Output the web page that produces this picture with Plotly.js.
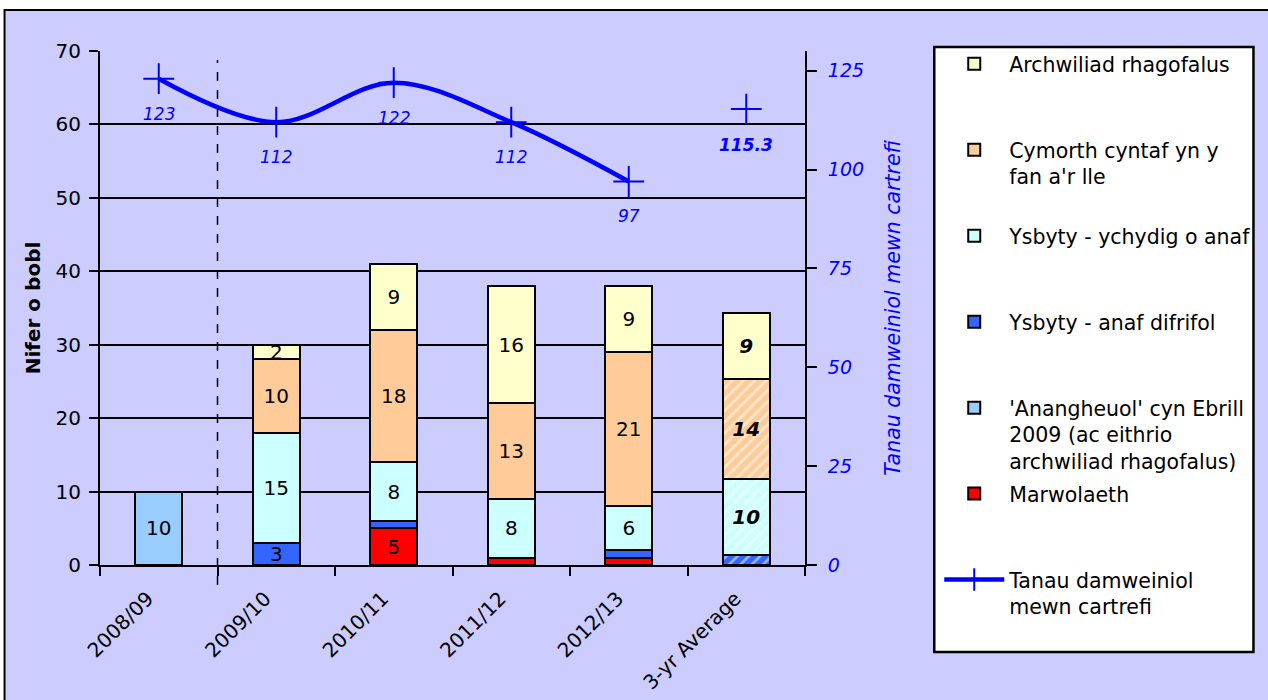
<!DOCTYPE html>
<html>
<head>
<meta charset="utf-8">
<script src="https://cdn.plot.ly/plotly-3.0.1.min.js"></script>
<style>html,body{margin:0;padding:0;background:#fff;}#chart{width:1268px;height:700px;}</style>
</head>
<body>
<div id="chart"></div>
<script>
// ---- data ----
const categories = ['2008/09', '2009/10', '2010/11', '2011/12', '2012/13', '3-yr Average'];
const marwolaeth   = [null, null, 5, 1, 1, null];
const anangheuol   = [10, null, null, null, null, null];
const anafDifrifol = [null, 3, 1, null, 1, 1.33];
const ychydigAnaf  = [null, 15, 8, 8, 6, 10.33];
const cymorth      = [null, 10, 18, 13, 21, 13.67];
const archwiliad   = [null, 2, 9, 16, 9, 9];
const tanauYears   = ['2008/09', '2009/10', '2010/11', '2011/12', '2012/13'];
const tanau        = [123, 112, 122, 112, 97];
const tanauAvg     = 115.3;
const tanauAvgLabel = '115.3';

const seriesNames = {
  marwolaeth: 'Marwolaeth',
  anangheuol: "'Anangheuol' cyn Ebrill<br>2009 (ac eithrio<br>archwiliad rhagofalus)",
  anafDifrifol: 'Ysbyty - anaf difrifol',
  ychydigAnaf: 'Ysbyty - ychydig o anaf',
  cymorth: "Cymorth cyntaf yn y<br>fan a'r lle",
  archwiliad: 'Archwiliad rhagofalus',
  tanau: 'Tanau damweiniol<br>mewn cartrefi'
};

// ---- styling ----
const FONT = 'DejaVu Sans';
const AVG_INDEX = categories.length - 1;
const BLUE = '#0000ff';

function padLines(name, n) {
  const lines = name.split('<br>').length;
  let out = name;
  for (let i = lines; i < n; i++) out += '<br>\u00a0';
  return out;
}

function labels(values) {
  return values.map((v, i) => {
    if (v === null || v < 2) return '';
    const r = String(Math.round(v));
    return i === AVG_INDEX ? '<b><i>' + r + '</i></b>' : r;
  });
}

function barTrace(values, key, color, rank, hatchAvg) {
  return {
    type: 'bar',
    x: categories,
    y: values,
    name: padLines(seriesNames[key], 3),
    legendgroup: key,
    legendrank: rank,
    text: labels(values),
    textposition: 'inside',
    insidetextanchor: 'middle',
    textangle: 0,
    textfont: {family: FONT, size: 20, color: '#000'},
    marker: {
      color: color,
      line: {color: '#000', width: 2},
      pattern: {
        shape: categories.map((c, i) => (hatchAvg && i === AVG_INDEX) ? '/' : ''),
        fillmode: 'overlay',
        bgcolor: color,
        fgcolor: '#ffffff',
        size: 8,
        solidity: 0.35
      }
    },
    hoverinfo: 'x+y'
  };
}

const traces = [
  barTrace(archwiliad, 'archwiliad', '#ffffcc', 1, false),
  barTrace(cymorth, 'cymorth', '#ffcc99', 2, true),
  barTrace(ychydigAnaf, 'ychydigAnaf', '#ccffff', 3, true),
  barTrace(anafDifrifol, 'anafDifrifol', '#3366ff', 4, true),
  barTrace(anangheuol, 'anangheuol', '#99ccff', 5, true),
  barTrace(marwolaeth, 'marwolaeth', '#ff0000', 6, true),
  {
    type: 'scatter',
    mode: 'lines+markers',
    x: tanauYears,
    y: tanau,
    yaxis: 'y2',
    name: padLines(seriesNames.tanau, 3),
    legendgroup: 'tanau',
    legendrank: 7,
    line: {color: BLUE, width: 4.5, shape: 'spline', smoothing: 1},
    marker: {symbol: 'cross-thin-open', size: 22, color: BLUE, line: {color: BLUE, width: 2}}
  },
  {
    type: 'scatter',
    mode: 'markers',
    x: [categories[AVG_INDEX]],
    y: [tanauAvg],
    yaxis: 'y2',
    showlegend: false,
    legendgroup: 'tanau',
    marker: {symbol: 'cross-thin-open', size: 22, color: BLUE, line: {color: BLUE, width: 2}}
  }
];
// stack from the bottom: Marwolaeth first
traces.reverse();
const lineTraces = traces.splice(0, 2).reverse();
traces.push(...lineTraces);

const annotations = tanau.map((v, i) => ({
  x: tanauYears[i], y: v, xref: 'x', yref: 'y2',
  text: String(v), showarrow: false, yshift: -35,
  font: {family: FONT, size: 17, color: BLUE, style: 'italic'}
}));
annotations.push({
  x: categories[AVG_INDEX], y: tanauAvg, xref: 'x', yref: 'y2',
  text: '<b>' + tanauAvgLabel + '</b>', showarrow: false, yshift: -36,
  font: {family: FONT, size: 17, color: BLUE, style: 'italic'}
});

// plot area: x 100..809 px, y 51..565 px
const PL = 100, PR = 809, PT = 51, PB = 565;
const px = v => (v - PL) / (PR - PL);
const py = v => (PB - v) / (PB - PT);

const shapes = [
  // outer lavender frame
  {type: 'rect', xref: 'paper', yref: 'paper', layer: 'below',
   x0: px(4), x1: px(1290), y0: py(720), y1: py(10),
   fillcolor: '#ccccff', line: {color: '#000', width: 2}},
  // legend box
  {type: 'rect', xref: 'paper', yref: 'paper', layer: 'below',
   x0: px(939), x1: px(1260), y0: py(652), y1: py(47),
   fillcolor: '#ffffff', line: {color: '#000', width: 2.5}},
  // dashed divider between 2008/09 and 2009/10
  {type: 'line', xref: 'x', yref: 'paper', x0: 0.5, x1: 0.5,
   y0: py(585), y1: py(60), line: {color: '#000', width: 1.5, dash: 'dash'}}
];

const layout = {
  width: 1268, height: 700,
  margin: {l: PL, r: 1268 - PR, t: PT, b: 700 - PB, pad: 0},
  paper_bgcolor: '#ffffff',
  plot_bgcolor: '#ffffff',
  font: {family: FONT, color: '#000'},
  barmode: 'stack',
  bargap: 0.6,
  constraintext: 'none',
  uniformtext: {mode: 'show', minsize: 20},
  showlegend: true,
  legend: {
    x: px(944), y: py(44), xanchor: 'left', yanchor: 'top',
    bgcolor: 'rgba(0,0,0,0)', borderwidth: 0,
    font: {family: FONT, size: 20.5, color: '#000'},
    valign: 'top', itemwidth: 60, tracegroupgap: 3, traceorder: 'grouped',
    maxheight: 690,
    itemclick: false
  },
  xaxis: {
    type: 'category', range: [-0.5, 5.5], tickson: 'boundaries',
    ticks: 'outside', ticklen: 9, tickwidth: 2, tickcolor: '#000',
    showline: true, linewidth: 2, linecolor: '#000',
    tickangle: -45, tickfont: {family: FONT, size: 20, color: '#000'},
    ticklabelstandoff: 12, ticklabelshift: -11,
    showgrid: false, zeroline: false, fixedrange: true
  },
  yaxis: {
    range: [0, 70], dtick: 10, tick0: 0,
    showgrid: true, gridcolor: '#000', gridwidth: 2,
    ticks: 'outside', ticklen: 9, tickwidth: 2, tickcolor: '#000',
    showline: true, linewidth: 2, linecolor: '#000', zeroline: false,
    tickfont: {family: FONT, size: 20, color: '#000'},
    ticklabelstandoff: 4,
    title: {text: 'Nifer o bobl', font: {family: FONT, size: 20, color: '#000', weight: 'bold'}, standoff: 10},
    fixedrange: true
  },
  yaxis2: {
    overlaying: 'y', side: 'right', range: [0, 130], dtick: 25, tick0: 0,
    showgrid: false, zeroline: false,
    ticks: 'outside', ticklen: 10, tickwidth: 2, tickcolor: '#000',
    showline: true, linewidth: 2, linecolor: '#000',
    tickfont: {family: FONT, size: 19, color: BLUE, style: 'italic'},
    ticklabelstandoff: 7,
    title: {text: 'Tanau damweiniol mewn cartrefi', font: {family: FONT, size: 20.5, color: BLUE, style: 'italic'}, standoff: 23},
    fixedrange: true
  },
  annotations: annotations,
  shapes: shapes
};

Plotly.newPlot('chart', traces, layout, {displayModeBar: false, staticPlot: true});
</script>
</body>
</html>
